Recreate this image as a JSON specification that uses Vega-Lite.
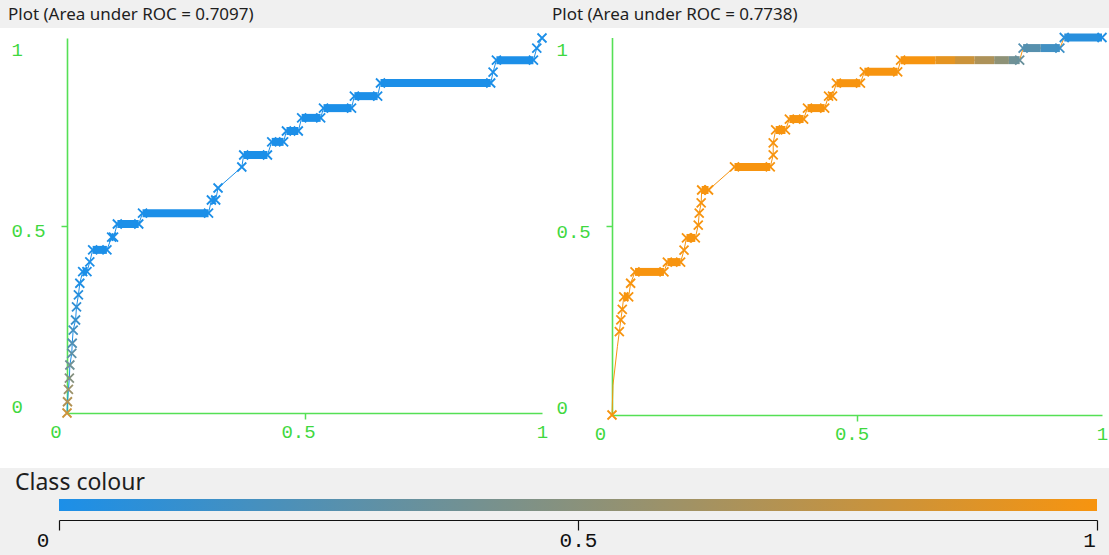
{
  "$schema": "https://vega.github.io/schema/vega-lite/v6.json",
  "background": "#f0f0f0",
  "padding": {"left": 0, "right": 0, "top": 6, "bottom": 6},
  "spacing": 4,
  "config": {"view": {"stroke": null}, "axis": {"grid": false}},
  "datasets": {
    "lp": [
      {"i":1,"x":0,"y":0,"c":0.8},{"i":2,"x":0.001,"y":0.03,"c":0.68},{"i":3,"x":0.003,"y":0.063,"c":0.58},
      {"i":4,"x":0.005,"y":0.093,"c":0.48},{"i":5,"x":0.006,"y":0.128,"c":0.38},{"i":6,"x":0.01,"y":0.159,"c":0.3},
      {"i":7,"x":0.011,"y":0.186,"c":0.24},{"i":8,"x":0.013,"y":0.221,"c":0.18},{"i":9,"x":0.018,"y":0.248,"c":0.13},
      {"i":10,"x":0.02,"y":0.283,"c":0.09},{"i":11,"x":0.024,"y":0.315,"c":0.05},{"i":12,"x":0.027,"y":0.346,"c":0.02},
      {"i":13,"x":0.033,"y":0.377,"c":0},{"i":14,"x":0.042,"y":0.377,"c":0},{"i":15,"x":0.048,"y":0.403,"c":0},
      {"i":16,"x":0.054,"y":0.435,"c":0},{"i":17,"x":0.084,"y":0.435,"c":0},{"i":18,"x":0.094,"y":0.469,"c":0},
      {"i":19,"x":0.098,"y":0.469,"c":0},{"i":20,"x":0.106,"y":0.504,"c":0},{"i":21,"x":0.151,"y":0.504,"c":0},
      {"i":22,"x":0.159,"y":0.533,"c":0},{"i":23,"x":0.298,"y":0.533,"c":0},{"i":24,"x":0.304,"y":0.568,"c":0},
      {"i":25,"x":0.313,"y":0.568,"c":0},{"i":26,"x":0.318,"y":0.6,"c":0},{"i":27,"x":0.368,"y":0.656,"c":0},
      {"i":28,"x":0.372,"y":0.688,"c":0},{"i":29,"x":0.422,"y":0.688,"c":0},{"i":30,"x":0.431,"y":0.723,"c":0},
      {"i":31,"x":0.456,"y":0.723,"c":0},{"i":32,"x":0.462,"y":0.752,"c":0},{"i":33,"x":0.487,"y":0.752,"c":0},
      {"i":34,"x":0.494,"y":0.787,"c":0},{"i":35,"x":0.534,"y":0.787,"c":0},{"i":36,"x":0.54,"y":0.813,"c":0},
      {"i":37,"x":0.599,"y":0.813,"c":0},{"i":38,"x":0.605,"y":0.845,"c":0},{"i":39,"x":0.654,"y":0.845,"c":0},
      {"i":40,"x":0.66,"y":0.88,"c":0},{"i":41,"x":0.892,"y":0.88,"c":0},{"i":42,"x":0.897,"y":0.909,"c":0},
      {"i":43,"x":0.904,"y":0.941,"c":0},{"i":44,"x":0.982,"y":0.941,"c":0},{"i":45,"x":0.989,"y":0.973,"c":0},
      {"i":46,"x":1,"y":1,"c":0}
    ],
    "lr": [
      {"x":0.033,"x2":0.042,"y":0.377,"c":0},{"x":0.054,"x2":0.084,"y":0.435,"c":0},{"x":0.094,"x2":0.098,"y":0.469,"c":0},
      {"x":0.106,"x2":0.151,"y":0.504,"c":0},{"x":0.159,"x2":0.298,"y":0.533,"c":0},{"x":0.304,"x2":0.313,"y":0.568,"c":0},
      {"x":0.372,"x2":0.422,"y":0.688,"c":0},{"x":0.431,"x2":0.456,"y":0.723,"c":0},{"x":0.462,"x2":0.487,"y":0.752,"c":0},
      {"x":0.494,"x2":0.534,"y":0.787,"c":0},{"x":0.54,"x2":0.599,"y":0.813,"c":0},{"x":0.605,"x2":0.654,"y":0.845,"c":0},
      {"x":0.66,"x2":0.892,"y":0.88,"c":0},{"x":0.904,"x2":0.982,"y":0.941,"c":0}
    ],
    "rp": [
      {"i":1,"x":0,"y":0,"c":1,"m":1},{"i":2,"x":0.002,"y":0.079,"c":1,"m":0},{"i":3,"x":0.011,"y":0.181,"c":1,"m":0},
      {"i":4,"x":0.015,"y":0.221,"c":1,"m":1},{"i":5,"x":0.018,"y":0.252,"c":1,"m":1},{"i":6,"x":0.021,"y":0.28,"c":1,"m":1},
      {"i":7,"x":0.024,"y":0.313,"c":1,"m":1},{"i":8,"x":0.034,"y":0.313,"c":1,"m":1},{"i":9,"x":0.038,"y":0.349,"c":1,"m":1},
      {"i":10,"x":0.047,"y":0.379,"c":1,"m":1},{"i":11,"x":0.106,"y":0.379,"c":1,"m":1},{"i":12,"x":0.113,"y":0.405,"c":1,"m":1},
      {"i":13,"x":0.14,"y":0.405,"c":1,"m":1},{"i":14,"x":0.147,"y":0.437,"c":1,"m":1},{"i":15,"x":0.152,"y":0.469,"c":1,"m":1},
      {"i":16,"x":0.17,"y":0.469,"c":1,"m":1},{"i":17,"x":0.176,"y":0.503,"c":1,"m":1},{"i":18,"x":0.178,"y":0.535,"c":1,"m":1},
      {"i":19,"x":0.182,"y":0.562,"c":1,"m":1},{"i":20,"x":0.183,"y":0.596,"c":1,"m":1},{"i":21,"x":0.197,"y":0.596,"c":1,"m":1},
      {"i":22,"x":0.25,"y":0.657,"c":1,"m":1},{"i":23,"x":0.323,"y":0.657,"c":1,"m":1},{"i":24,"x":0.329,"y":0.689,"c":1,"m":1},
      {"i":25,"x":0.329,"y":0.721,"c":1,"m":1},{"i":26,"x":0.334,"y":0.755,"c":1,"m":1},{"i":27,"x":0.354,"y":0.755,"c":1,"m":1},
      {"i":28,"x":0.362,"y":0.784,"c":1,"m":1},{"i":29,"x":0.391,"y":0.784,"c":1,"m":1},{"i":30,"x":0.399,"y":0.813,"c":1,"m":1},
      {"i":31,"x":0.434,"y":0.813,"c":1,"m":1},{"i":32,"x":0.442,"y":0.845,"c":1,"m":1},{"i":33,"x":0.45,"y":0.845,"c":1,"m":1},
      {"i":34,"x":0.458,"y":0.879,"c":1,"m":1},{"i":35,"x":0.507,"y":0.879,"c":1,"m":1},{"i":36,"x":0.515,"y":0.909,"c":1,"m":1},
      {"i":37,"x":0.583,"y":0.909,"c":1,"m":1},{"i":38,"x":0.589,"y":0.94,"c":1,"m":1},{"i":39,"x":0.832,"y":0.94,"c":0.35,"m":1},
      {"i":40,"x":0.839,"y":0.972,"c":0.25,"m":1},{"i":41,"x":0.914,"y":0.972,"c":0.15,"m":1},{"i":42,"x":0.923,"y":1,"c":0.06,"m":1},
      {"i":43,"x":1,"y":1,"c":0.02,"m":1}
    ],
    "rr": [
      {"x":0.024,"x2":0.034,"y":0.313,"c":1},{"x":0.047,"x2":0.106,"y":0.379,"c":1},{"x":0.113,"x2":0.14,"y":0.405,"c":1},
      {"x":0.152,"x2":0.17,"y":0.469,"c":1},{"x":0.183,"x2":0.197,"y":0.596,"c":1},{"x":0.25,"x2":0.323,"y":0.657,"c":1},
      {"x":0.334,"x2":0.354,"y":0.755,"c":1},{"x":0.362,"x2":0.391,"y":0.784,"c":1},{"x":0.399,"x2":0.434,"y":0.813,"c":1},
      {"x":0.442,"x2":0.45,"y":0.845,"c":1},{"x":0.458,"x2":0.507,"y":0.879,"c":1},{"x":0.515,"x2":0.583,"y":0.909,"c":1},
      {"x":0.589,"x2":0.66,"y":0.94,"c":1},{"x":0.66,"x2":0.7,"y":0.94,"c":0.92},{"x":0.7,"x2":0.74,"y":0.94,"c":0.8},
      {"x":0.74,"x2":0.78,"y":0.94,"c":0.66},{"x":0.78,"x2":0.81,"y":0.94,"c":0.52},{"x":0.81,"x2":0.832,"y":0.94,"c":0.38},
      {"x":0.839,"x2":0.875,"y":0.972,"c":0.27},{"x":0.875,"x2":0.914,"y":0.972,"c":0.17},
      {"x":0.923,"x2":1,"y":1,"c":0.05}
    ]
  },
  "vconcat": [
    {
      "spacing": 0,
      "bounds": "flush",
      "hconcat": [
        {
          "width": 550, "height": 440,
          "view": {"fill": "white", "stroke": null},
          "title": {"text": "Plot (Area under ROC = 0.7097)", "anchor": "start", "frame": "group", "dx": 8, "offset": -9, "baseline": "alphabetic", "font": "Noto Sans", "fontSize": 17, "fontWeight": "normal", "color": "#1e1e1e"},
          "encoding": {
            "x": {"field": "x", "type": "quantitative",
              "scale": {"domain": [0, 1], "range": [67, 542], "nice": false, "zero": false},
              "axis": {"title": null, "orient": "bottom", "offset": -55, "values": [0, 0.5, 1], "format": "~g",
                "domainColor": "#55e055", "domainWidth": 1.6, "tickColor": "#55e055", "tickWidth": 1.5, "tickSize": 6,
                "tickOpacity": {"condition": {"test": "datum.value == 0.5", "value": 1}, "value": 0},
                "labelFont": "Liberation Mono", "labelFontSize": 19, "labelColor": "#3fd83f", "labelAlign": "center", "labelBaseline": "alphabetic", "labelPadding": 18.5,
                "labelOffset": {"condition": [{"test": "datum.value == 0", "value": -11.5}, {"test": "datum.value == 0.5", "value": -6.5}], "value": 0},
                "labelFlush": false, "labelOverlap": false, "labelBound": false}},
            "y": {"field": "y", "type": "quantitative",
              "scale": {"domain": [0, 1], "range": [385, 10], "nice": false, "zero": false},
              "axis": {"title": null, "orient": "left", "offset": -67, "values": [0, 0.5, 1], "format": "~g",
                "domainColor": "#55e055", "domainWidth": 1.6, "tickColor": "#55e055", "tickWidth": 1.5, "tickSize": 6,
                "tickOpacity": {"condition": {"test": "datum.value == 0.5", "value": 1}, "value": 0},
                "labelFont": "Liberation Mono", "labelFontSize": 19, "labelColor": "#3fd83f", "labelAlign": "left", "labelBaseline": "alphabetic", "labelPadding": 50,
                "labelOffset": {"condition": [{"test": "datum.value == 0", "value": -0.5}, {"test": "datum.value == 0.5", "value": 10.5}], "value": 17.5},
                "labelFlush": false, "labelOverlap": false, "labelBound": false}}
          },
          "layer": [
            {"data": {"name": "lp"}, "mark": {"type": "line", "color": "#1c8fe8", "strokeWidth": 1}, "encoding": {"order": {"field": "i", "type": "quantitative"}}},
            {"data": {"name": "lr"}, "mark": {"type": "rule", "strokeWidth": 8, "strokeCap": "butt"},
              "encoding": {"x2": {"field": "x2"}, "color": {"field": "c", "type": "quantitative", "scale": {"domain": [0, 1], "range": ["#1c8fe8", "#f7940f"], "interpolate": "rgb"}, "legend": null}}},
            {"data": {"name": "lp"}, "mark": {"type": "point", "shape": "M-1,-1L1,1M-1,1L1,-1", "size": 81, "filled": false, "strokeWidth": 1.8, "opacity": 1},
              "encoding": {"color": {"field": "c", "type": "quantitative", "scale": {"domain": [0, 1], "range": ["#1c8fe8", "#f7940f"], "interpolate": "rgb"}, "legend": null}}}
          ]
        },
        {
          "width": 559, "height": 440,
          "view": {"fill": "white", "stroke": null},
          "title": {"text": "Plot (Area under ROC = 0.7738)", "anchor": "start", "frame": "group", "dx": 2, "offset": -9, "baseline": "alphabetic", "font": "Noto Sans", "fontSize": 17, "fontWeight": "normal", "color": "#1e1e1e"},
          "encoding": {
            "x": {"field": "x", "type": "quantitative",
              "scale": {"domain": [0, 1], "range": [62, 552], "nice": false, "zero": false},
              "axis": {"title": null, "orient": "bottom", "offset": -53, "values": [0, 0.5, 1], "format": "~g",
                "domainColor": "#55e055", "domainWidth": 1.6, "tickColor": "#55e055", "tickWidth": 1.5, "tickSize": 6,
                "tickOpacity": {"condition": {"test": "datum.value == 0.5", "value": 1}, "value": 0},
                "labelFont": "Liberation Mono", "labelFontSize": 19, "labelColor": "#3fd83f", "labelAlign": "center", "labelBaseline": "alphabetic", "labelPadding": 18.5,
                "labelOffset": {"condition": [{"test": "datum.value == 0", "value": -12}, {"test": "datum.value == 0.5", "value": -5.5}], "value": 0},
                "labelFlush": false, "labelOverlap": false, "labelBound": false}},
            "y": {"field": "y", "type": "quantitative",
              "scale": {"domain": [0, 1], "range": [387, 9.5], "nice": false, "zero": false},
              "axis": {"title": null, "orient": "left", "offset": -62, "values": [0, 0.5, 1], "format": "~g",
                "domainColor": "#55e055", "domainWidth": 1.6, "tickColor": "#55e055", "tickWidth": 1.5, "tickSize": 6,
                "tickOpacity": {"condition": {"test": "datum.value == 0.5", "value": 1}, "value": 0},
                "labelFont": "Liberation Mono", "labelFontSize": 19, "labelColor": "#3fd83f", "labelAlign": "left", "labelBaseline": "alphabetic", "labelPadding": 50,
                "labelOffset": {"condition": [{"test": "datum.value == 0", "value": -2}, {"test": "datum.value == 0.5", "value": 11.5}], "value": 18},
                "labelFlush": false, "labelOverlap": false, "labelBound": false}}
          },
          "layer": [
            {"data": {"name": "rp"}, "mark": {"type": "line", "color": "#f7940f", "strokeWidth": 1}, "encoding": {"order": {"field": "i", "type": "quantitative"}}},
            {"data": {"name": "rr"}, "mark": {"type": "rule", "strokeWidth": 8, "strokeCap": "butt"},
              "encoding": {"x2": {"field": "x2"}, "color": {"field": "c", "type": "quantitative", "scale": {"domain": [0, 1], "range": ["#1c8fe8", "#f7940f"], "interpolate": "rgb"}, "legend": null}}},
            {"data": {"name": "rp"}, "transform": [{"filter": "datum.m == 1"}], "mark": {"type": "point", "shape": "M-1,-1L1,1M-1,1L1,-1", "size": 81, "filled": false, "strokeWidth": 1.8, "opacity": 1},
              "encoding": {"color": {"field": "c", "type": "quantitative", "scale": {"domain": [0, 1], "range": ["#1c8fe8", "#f7940f"], "interpolate": "rgb"}, "legend": null}}}
          ]
        }
      ]
    },
    {
      "width": 1109, "height": 12,
      "view": {"fill": null, "stroke": null},
      "data": {"values": [{"lo": 0, "hi": 1}]},
      "title": {"text": "Class colour", "anchor": "start", "frame": "group", "dx": 15, "offset": -14, "baseline": "alphabetic", "font": "Noto Sans", "fontSize": 23, "fontWeight": "normal", "color": "#1e1e1e"},
      "mark": {"type": "rect", "fill": {"gradient": "linear", "x1": 0, "x2": 1, "y1": 0, "y2": 0, "stops": [{"offset": 0, "color": "#1c8fe8"}, {"offset": 1, "color": "#f7940f"}]}},
      "encoding": {
        "x": {"field": "lo", "type": "quantitative",
          "scale": {"domain": [0, 1], "range": [59, 1097], "nice": false, "zero": false},
          "axis": {"title": null, "orient": "bottom", "offset": 9, "values": [0, 0.5, 1], "format": "~g",
            "domainColor": "#111111", "domainWidth": 1.2, "tickColor": "#111111", "tickWidth": 1.2, "tickSize": 10,
            "labelFont": "Liberation Mono", "labelFontSize": 21, "labelColor": "#111111", "labelAlign": "center", "labelBaseline": "alphabetic", "labelPadding": 16,
            "labelOffset": {"condition": [{"test": "datum.value == 0", "value": -16.5}, {"test": "datum.value == 1", "value": -8}], "value": 0},
            "labelFlush": false, "labelOverlap": false, "labelBound": false}},
        "x2": {"field": "hi"}
      }
    }
  ]
}
